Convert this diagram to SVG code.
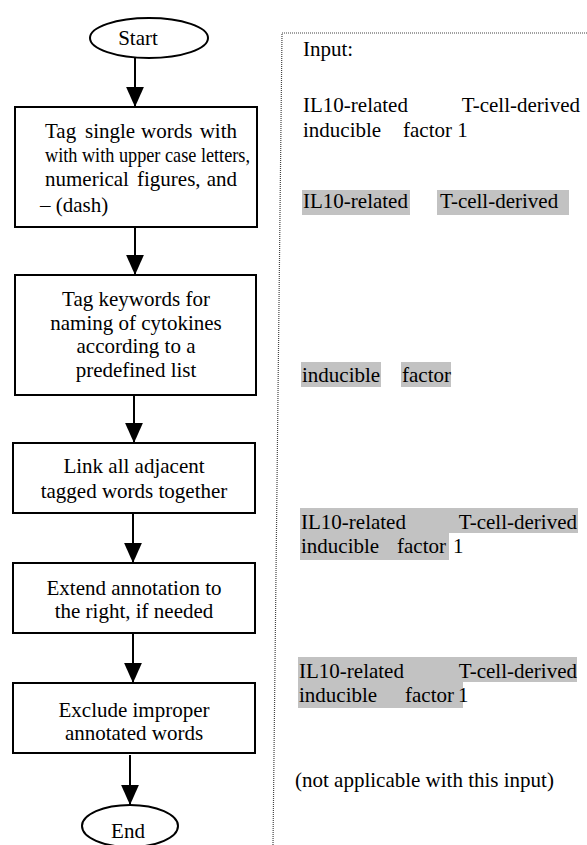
<svg xmlns="http://www.w3.org/2000/svg" width="587" height="845" viewBox="0 0 587 845">
<style>
  text { font-family: "Liberation Serif", "DejaVu Serif", serif; font-size: 21px; fill: #000; }
  .c { text-anchor: middle; }
  .e { text-anchor: end; }
  .box { fill: #fff; stroke: #000; stroke-width: 2; }
  .hl { fill: #c2c2c2; }
  .conn line { stroke: #000; stroke-width: 2; }
  .panel { fill: none; stroke: #444; stroke-width: 1.2; stroke-dasharray: 1 1; }
</style>
<defs>
  <marker id="ah" markerUnits="userSpaceOnUse" markerWidth="20" markerHeight="18" refX="18" refY="8" orient="auto" viewBox="0 0 18 16">
    <path d="M0,0 L18,8 L0,16 Z" fill="#000"/>
  </marker>
</defs>
<rect width="587" height="845" fill="#fff"/>

<g id="connectors" class="conn">
  <line x1="135" y1="58" x2="135" y2="107" marker-end="url(#ah)"/>
  <line x1="135" y1="227" x2="135" y2="275" marker-end="url(#ah)"/>
  <line x1="134" y1="395" x2="134" y2="443" marker-end="url(#ah)"/>
  <line x1="133" y1="513" x2="133" y2="563" marker-end="url(#ah)"/>
  <line x1="133" y1="633" x2="133" y2="683" marker-end="url(#ah)"/>
  <line x1="130" y1="755" x2="130" y2="805" marker-end="url(#ah)"/>
</g>

<g id="start">
  <ellipse cx="149" cy="38" rx="59" ry="20" class="box"/>
  <text x="138" y="45" class="c">Start</text>
</g>

<g id="step1">
  <rect x="15" y="107" width="242" height="120" class="box"/>
  <text y="138"><tspan x="45">Tag</tspan><tspan x="85">single</tspan><tspan x="141">words</tspan><tspan x="237" text-anchor="end">with</tspan></text>
  <text x="45" y="162" textLength="205" lengthAdjust="spacingAndGlyphs">with with upper case letters,</text>
  <text y="186"><tspan x="45">numerical</tspan><tspan x="137">figures,</tspan><tspan x="237" text-anchor="end">and</tspan></text>
  <text x="40" y="212">– (dash)</text>
</g>

<g id="step2">
  <rect x="15" y="275" width="241" height="120" class="box"/>
  <text x="136" y="306" class="c">Tag keywords for</text>
  <text x="136" y="330" class="c">naming of cytokines</text>
  <text x="136" y="353" class="c">according to a</text>
  <text x="136" y="377" class="c">predefined list</text>
</g>

<g id="step3">
  <rect x="13" y="443" width="242" height="70" class="box"/>
  <text x="134" y="473" class="c">Link all adjacent</text>
  <text x="134" y="498" class="c">tagged words together</text>
</g>

<g id="step4">
  <rect x="13" y="563" width="242" height="70" class="box"/>
  <text x="134" y="595" class="c">Extend annotation to</text>
  <text x="134" y="618" class="c">the right, if needed</text>
</g>

<g id="step5">
  <rect x="13" y="683" width="242" height="70" class="box"/>
  <text x="134" y="717" class="c">Exclude improper</text>
  <text x="134" y="740" class="c">annotated words</text>
</g>

<g id="end">
  <ellipse cx="130" cy="826" rx="48" ry="21" class="box"/>
  <text x="128" y="838" class="c">End</text>
</g>

<g id="panel">
  <path d="M587,33 L282,33 L273,845" class="panel"/>
  <text x="303" y="56">Input:</text>
  <text x="303" y="112">IL10-related</text>
  <text x="580" y="112" class="e">T-cell-derived</text>
  <text x="303" y="137">inducible</text>
  <text x="403" y="137">factor 1</text>

  <rect x="302" y="190" width="108" height="25" class="hl"/>
  <rect x="437" y="190" width="132" height="25" class="hl"/>
  <text x="303" y="208">IL10-related</text>
  <text x="440" y="208">T-cell-derived</text>

  <rect x="301" y="362" width="80" height="25" class="hl"/>
  <rect x="401" y="362" width="50" height="25" class="hl"/>
  <text x="302" y="382">inducible</text>
  <text x="402" y="382">factor</text>

  <rect x="300" y="508" width="278" height="25" class="hl"/>
  <rect x="300" y="533" width="149" height="27" class="hl"/>
  <text x="301" y="529">IL10-related</text>
  <text x="577" y="529" class="e">T-cell-derived</text>
  <text x="301" y="553">inducible</text>
  <text x="397" y="553">factor</text>
  <text x="453" y="553">1</text>

  <rect x="298" y="657" width="279" height="25" class="hl"/>
  <rect x="298" y="682" width="165" height="26" class="hl"/>
  <text x="299" y="678">IL10-related</text>
  <text x="577" y="678" class="e">T-cell-derived</text>
  <text x="299" y="702">inducible</text>
  <text x="405" y="702">factor</text>
  <text x="458" y="702">1</text>

  <text x="295" y="787">(not applicable with this input)</text>
</g>
</svg>
